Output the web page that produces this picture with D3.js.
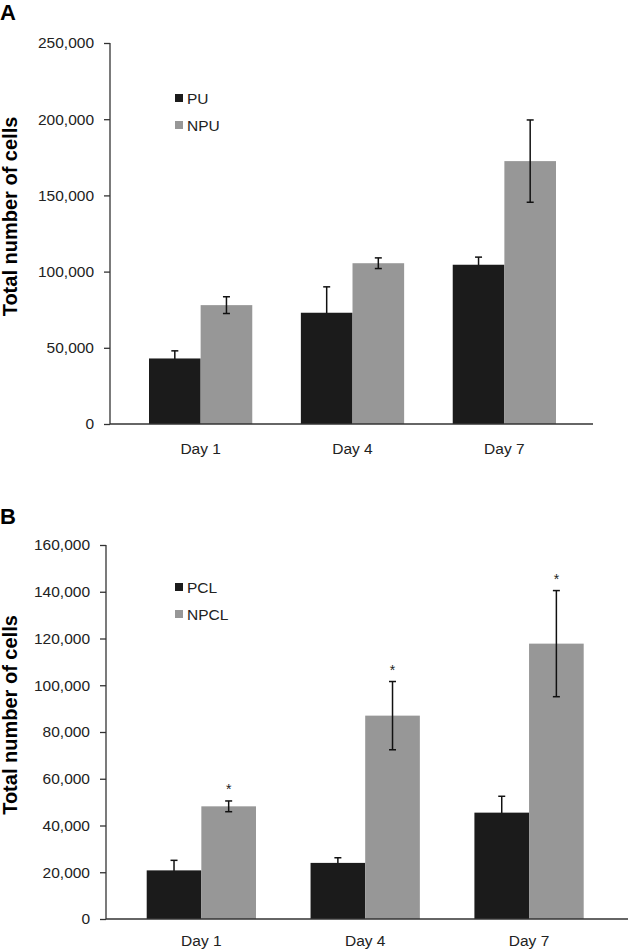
<!DOCTYPE html>
<html>
<head>
<meta charset="utf-8">
<script src="https://cdn.jsdelivr.net/npm/d3@7"></script>
<style>
  body { margin: 0; background: #fff; }
  svg { display: block; font-family: "Liberation Sans", Arial, sans-serif; }
</style>
</head>
<body>
<svg id="chart" width="628" height="949"></svg>
<script>
// data
const days = ["Day 1", "Day 4", "Day 7"];

const puMean = [43000, 73000, 104500];
const puErr = [5000, 17000, 5000];
const npuMean = [78000, 105500, 172500];
const npuErr = [5500, 3500, 27000];
const ticksA = [0, 50000, 100000, 150000, 200000, 250000];

const pclMean = [20800, 24000, 45500];
const pclErr = [4300, 2200, 7000];
const npclMean = [48200, 87000, 117800];
const npclErr = [2300, 14600, 22700];
const ticksB = [0, 20000, 40000, 60000, 80000, 100000, 120000, 140000, 160000];
const starsB = [true, true, true];

const dark = "#1b1b1b", light = "#979797";

const svg = d3.select("#chart");

function panel(opt) {
  const g = svg.append("g");
  const y = d3.scaleLinear().domain(opt.yDomain).range(opt.yRange);
  const x = d3.scaleBand().domain(days).range(opt.xBars).paddingInner(opt.pad);
  const half = x.bandwidth() / 2;

  // panel letter
  g.append("text").attr("x", 0).attr("y", opt.letterY)
    .attr("font-size", 22).attr("font-weight", "bold").text(opt.letter);

  // y title
  const mid = (opt.yRange[0] + opt.yRange[1]) / 2 - 17;
  g.append("text")
    .attr("transform", `translate(17, ${mid}) rotate(-90)`)
    .attr("text-anchor", "middle")
    .attr("font-size", 20).attr("font-weight", "bold")
    .text("Total number of cells");

  // y axis
  const yAxis = d3.axisLeft(y).tickValues(opt.ticks)
    .tickFormat(d3.format(",")).tickSize(6).tickPadding(10).tickSizeOuter(0);
  const ya = g.append("g").attr("transform", `translate(${opt.axisX},0)`).call(yAxis);
  ya.selectAll("text").attr("font-size", 15.5).attr("fill", "#222");
  ya.selectAll("line, path").attr("stroke", "#333").attr("stroke-width", 1.3);
  ya.select(".domain").attr("d", `M0,${opt.yRange[1]}V${opt.yRange[0]}`);

  const series = [
    { mean: opt.s1, err: opt.e1, color: dark, off: 0 },
    { mean: opt.s2, err: opt.e2, color: light, off: half }
  ];

  function errorBars(s) {
    const eb = g.selectAll(null).data(days).enter().append("g")
      .attr("stroke", "#111").attr("stroke-width", 1.5);
    const cx = (d) => x(d) + s.off + half / 2;
    eb.append("line").attr("x1", cx).attr("x2", cx)
      .attr("y1", (d, i) => y(s.mean[i] - s.err[i]))
      .attr("y2", (d, i) => y(s.mean[i] + s.err[i]));
    [-1, 1].forEach(sg => {
      eb.append("line").attr("x1", d => cx(d) - 3.5).attr("x2", d => cx(d) + 3.5)
        .attr("y1", (d, i) => y(s.mean[i] + sg * s.err[i]))
        .attr("y2", (d, i) => y(s.mean[i] + sg * s.err[i]));
    });
  }

  function bars(s) {
    g.selectAll(null).data(days).enter().append("rect")
      .attr("x", d => x(d) + s.off)
      .attr("y", (d, i) => y(s.mean[i]))
      .attr("width", half)
      .attr("height", (d, i) => y(0) - y(s.mean[i]))
      .attr("fill", s.color);
  }

  // dark bars sit over their own error bars, light bars under theirs
  errorBars(series[0]);
  bars(series[0]);
  bars(series[1]);
  errorBars(series[1]);

  // x axis line
  g.append("line")
    .attr("x1", opt.axisX).attr("x2", opt.axisEnd)
    .attr("y1", y(0)).attr("y2", y(0))
    .attr("stroke", "#333").attr("stroke-width", 1.3);

  // significance stars
  if (opt.stars) {
    g.selectAll(null).data(days).enter().append("text")
      .filter((d, i) => opt.stars[i])
      .attr("x", d => x(d) + half * 1.5)
      .attr("y", (d, i) => y(opt.s2[i] + opt.e2[i]) - 7)
      .attr("text-anchor", "middle").attr("font-size", 14).attr("fill", "#222")
      .text("*");
  }

  // category labels
  g.selectAll(null).data(days).enter().append("text")
    .attr("x", d => x(d) + half)
    .attr("y", opt.labelY)
    .attr("text-anchor", "middle").attr("font-size", 15.5).attr("fill", "#222")
    .text(d => d);

  // legend
  opt.legend.forEach((name, i) => {
    const ly = opt.legendY + i * opt.legendGap;
    g.append("rect").attr("x", 175).attr("y", ly - 4).attr("width", 8).attr("height", 8)
      .attr("fill", i === 0 ? dark : light);
    g.append("text").attr("x", 187).attr("y", ly + 5.5)
      .attr("font-size", 15.5).attr("fill", "#222").text(name);
  });
}

panel({
  letter: "A", letterY: 20,
  yDomain: [0, 250000], yRange: [424, 43], ticks: ticksA,
  axisX: 110, axisEnd: 593, xBars: [149, 556], pad: 0.32,
  s1: puMean, e1: puErr, s2: npuMean, e2: npuErr,
  labelY: 454, legend: ["PU", "NPU"], legendY: 98, legendGap: 27
});

panel({
  letter: "B", letterY: 524,
  yDomain: [0, 160000], yRange: [919, 545], ticks: ticksB,
  axisX: 106, axisEnd: 628, xBars: [146.7, 583.7], pad: 0.333,
  s1: pclMean, e1: pclErr, s2: npclMean, e2: npclErr, stars: starsB,
  labelY: 946, legend: ["PCL", "NPCL"], legendY: 587, legendGap: 27
});
</script>
</body>
</html>
